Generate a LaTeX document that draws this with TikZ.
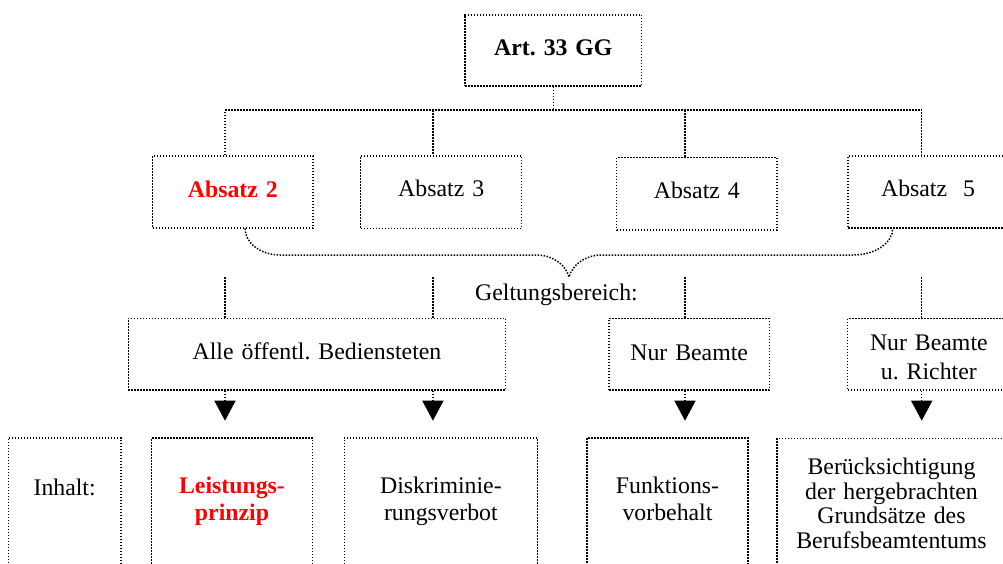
\documentclass[tikz,border=0pt]{standalone}
\usepackage{fontspec}
\setmainfont{Liberation Serif}
\usetikzlibrary{arrows.meta}

\begin{document}
\begin{tikzpicture}[x=1pt,y=-1pt,
  dots/.style={line width=1.5pt, dash pattern=on 1.5pt off 1.5pt},
  txt/.style={font={\fontsize{23.8pt}{27pt}\selectfont\frenchspacing}},
  box/.style={draw, dots, txt, inner sep=0pt, align=center, anchor=north},
  hl/.style={text=red, font={\fontsize{23.8pt}{27pt}\selectfont\bfseries}},
  down/.style={dots, -{Triangle[width=21pt,length=20pt]}}
]
\useasboundingbox (0,0) rectangle (1003,563);
\clip (0,0) rectangle (1003,563);

% column positions of the connectors
\coordinate (c1) at (225,0);
\coordinate (c2) at (432.9,0);
\coordinate (c3) at (685,0);
\coordinate (c4) at (921.7,0);
\coordinate (bus) at (553.35,110);
\coordinate (gtop) at (0,277);
\coordinate (tip) at (569,277);

% root
\node[box, font={\fontsize{23.8pt}{27pt}\selectfont\bfseries\frenchspacing}, text width=176.7pt,
      text height=41pt, text depth=30pt] (art) at (553.35,14) {Art. 33 GG};

% paragraphs
\node[box, hl, text width=160.3pt, text height=41.7pt, text depth=30.3pt]
  (a2) at (232.85,155) {Absatz 2};
\node[box, text width=161pt, text height=41pt, text depth=31.7pt]
  (a3) at (441.2,155) {Absatz 3};
\node[box, text width=160.3pt, text height=40.6pt, text depth=31.7pt]
  (a4) at (696.85,156.7) {Absatz 4};
\node[box, text width=160pt, text height=41pt, text depth=31pt]
  (a5) at (928,155) {Absatz~~5};

% scope of application
\node[txt, anchor=base] (gb) at (556.5,300) {Geltungsbereich:};
\node[box, text width=377.4pt, text height=41.3pt, text depth=30pt]
  (alle) at (317,317.7) {Alle öffentl. Bediensteten};
\node[box, text width=160.3pt, text height=41.6pt, text depth=29.7pt]
  (nurb) at (689.15,317.7) {Nur Beamte};
\node[box, font={\fontsize{23.8pt}{28.3pt}\selectfont\frenchspacing}, text width=162.3pt,
      text height=32.3pt, text depth=39pt]
  (richter) at (928.85,317.7) {Nur Beamte\\u. Richter};

% content
\node[box, text width=112.7pt, text height=57.7pt, text depth=85pt]
  (inhalt) at (64.65,437.3) {Inhalt:};
\node[box, hl, text width=160.6pt, text height=55pt, text depth=87.7pt]
  (leist) at (232,437.3) {Leistungs-\\prinzip};
\node[box, text width=193.2pt, text height=55pt, text depth=87.7pt]
  (disk) at (440.9,437.3) {Diskriminie-\\rungsverbot};
\node[box, text width=161pt, text height=55pt, text depth=87.7pt]
  (funk) at (667.5,437.3) {Funktions-\\vorbehalt};
\node[box, font={\fontsize{23.8pt}{24.6pt}\selectfont}, text width=229pt,
      text height=36.3pt, text depth=106pt]
  (beruck) at (891.5,437.7) {Berücksichtigung\\der hergebrachten\\Grundsätze des\\Berufsbeamtentums};

% tree from the article to its paragraphs
\draw[dots] (art.south) -- (bus);
\draw[dots] (a2.north -| c1) -- (bus -| c1) -- (bus -| c4) -- (a5.north -| c4);
\draw[dots] (bus -| c2) -- (a3.north -| c2);
\draw[dots] (bus -| c3) -- (a4.north -| c3);

% brace over paragraphs 2 to 5
\draw[dots] ([xshift=12.15pt]a2.south)
  .. controls (245,243) and (261,255) .. (280,255) -- (538,255)
  .. controls (555,256) and (566,266) .. (tip)
  .. controls (572,266) and (583,256) .. (600,255) -- (853,255)
  .. controls (875,255) and (892.7,243) .. ([xshift=-35.3pt]a5.south);

% scope stems
\draw[dots] (gtop -| c1) -- (alle.north -| c1);
\draw[dots] (gtop -| c2) -- (alle.north -| c2);
\draw[dots] (gtop -| c3) -- (nurb.north -| c3);
\draw[dots] (gtop -| c4) -- (richter.north -| c4);

% arrows to the contents
\draw[down, shorten >=16.6pt] (alle.south -| c1) -- (leist.north -| c1);
\draw[down, shorten >=16.6pt] (alle.south -| c2) -- (disk.north -| c2);
\draw[down, shorten >=16.6pt] (nurb.south -| c3) -- (funk.north -| c3);
\draw[down, shorten >=17pt] (richter.south -| c4) -- (beruck.north -| c4);
\end{tikzpicture}
\end{document}
